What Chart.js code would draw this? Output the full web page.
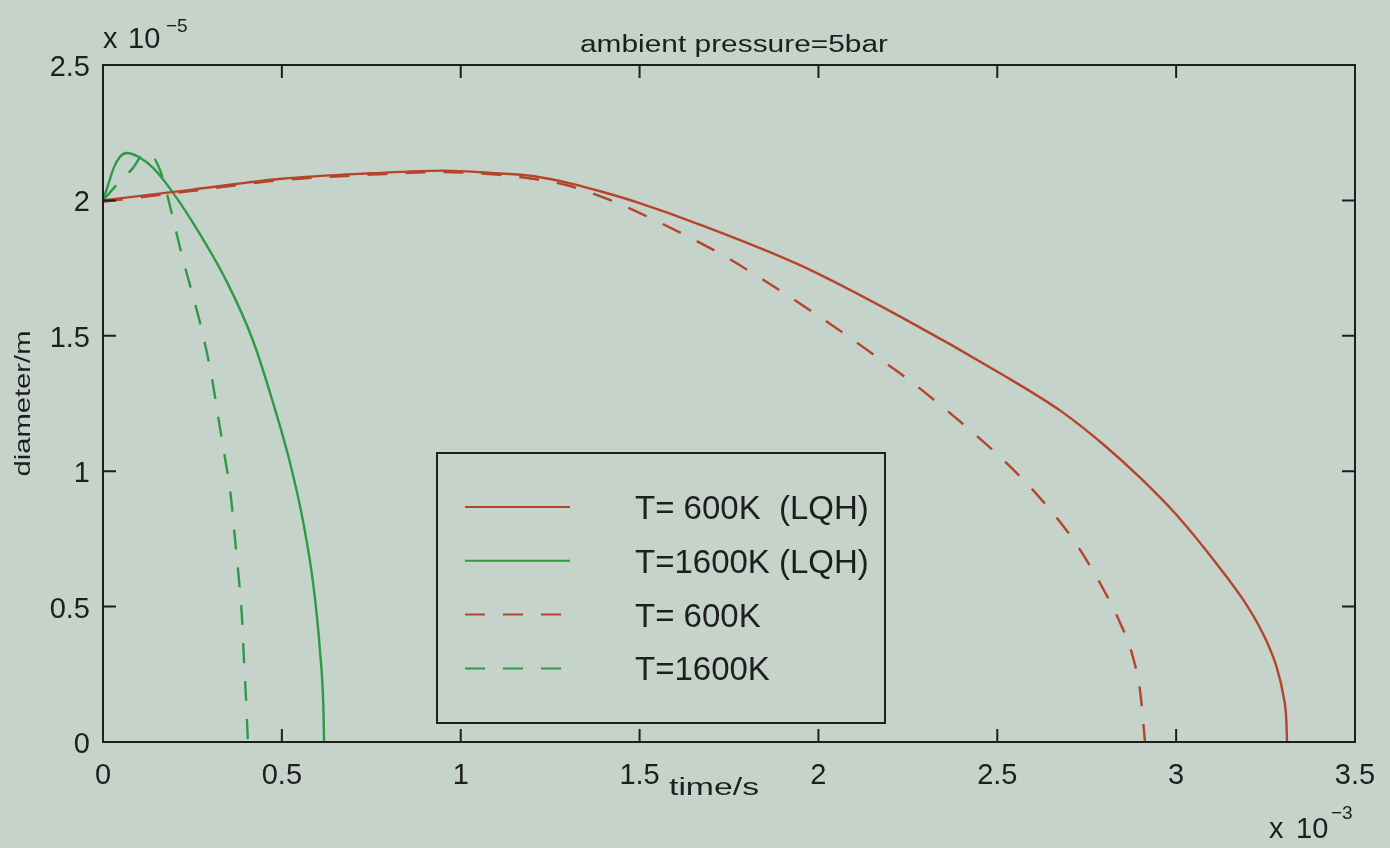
<!DOCTYPE html>
<html>
<head>
<meta charset="utf-8">
<script src="https://cdn.jsdelivr.net/npm/chart.js@4/dist/chart.umd.min.js"></script>
<style>
  body { margin: 0; background: #c6d3cb; }
  canvas { display: block; }
</style>
</head>
<body>
<canvas id="chart" width="1390" height="848"></canvas>
<script>
// time in 1e-3 s, diameter in 1e-5 m
const t600lqh = [0, 0.25, 0.5, 0.75, 0.95, 1.1, 1.2, 1.3, 1.4, 1.5, 1.67, 1.95, 2.23, 2.51, 2.68, 2.8, 2.9, 3.0, 3.1, 3.2, 3.25, 3.28, 3.3, 3.308, 3.31];
const d600lqh = [2.0, 2.04, 2.08, 2.10, 2.11, 2.10, 2.09, 2.065, 2.03, 1.99, 1.91, 1.76, 1.57, 1.36, 1.22, 1.095, 0.975, 0.84, 0.68, 0.50, 0.38, 0.28, 0.17, 0.08, 0];

const t1600lqh = [0, 0.015, 0.03, 0.047, 0.067, 0.1, 0.14, 0.178, 0.252, 0.346, 0.42, 0.476, 0.523, 0.56, 0.588, 0.607, 0.616, 0.618];
const d1600lqh = [2.0, 2.06, 2.12, 2.16, 2.175, 2.16, 2.12, 2.06, 1.916, 1.70, 1.48, 1.25, 1.03, 0.81, 0.58, 0.33, 0.13, 0];

const t600 = [0, 0.25, 0.5, 0.75, 0.95, 1.1, 1.2, 1.3, 1.42, 1.53, 1.63, 1.73, 1.83, 1.97, 2.07, 2.16, 2.25, 2.34, 2.43, 2.51, 2.6, 2.7, 2.755, 2.79, 2.84, 2.88, 2.9, 2.913];
const d600 = [1.995, 2.035, 2.075, 2.095, 2.105, 2.095, 2.08, 2.055, 2.0, 1.935, 1.87, 1.80, 1.72, 1.60, 1.51, 1.425, 1.34, 1.245, 1.145, 1.05, 0.93, 0.77, 0.66, 0.58, 0.45, 0.31, 0.18, 0];

const t1600 = [0, 0.04, 0.084, 0.117, 0.135, 0.15, 0.168, 0.187, 0.224, 0.252, 0.28, 0.305, 0.322, 0.341, 0.358, 0.369, 0.38, 0.389, 0.394, 0.40, 0.405];
const d1600 = [2.0, 2.06, 2.12, 2.175, 2.17, 2.14, 2.08, 1.98, 1.78, 1.645, 1.50, 1.34, 1.20, 1.05, 0.90, 0.75, 0.60, 0.45, 0.305, 0.156, 0];

const seriesLabels = ["T= 600K  (LQH)", "T=1600K (LQH)", "T= 600K", "T=1600K"];
const xTickLabels = ["0", "0.5", "1", "1.5", "2", "2.5", "3", "3.5"];
const yTickLabels = ["0", "0.5", "1", "1.5", "2", "2.5"];

const RED = "#b4452c";
const GREEN = "#2e9a44";
const INK = "#1e1e1e";
const BG = "#c6d3cb";
const FONT = "'Liberation Sans', Arial, sans-serif";

const pts = (xs, ys) => xs.map((x, i) => ({ x: x, y: ys[i] }));

// the small labels in the photo are wider than a plain font, so stretch them to a width
function wideText(ctx, txt, x, y, size, width) {
  ctx.font = size + "px " + FONT;
  const sx = width / ctx.measureText(txt).width;
  ctx.save();
  ctx.translate(x, y);
  ctx.scale(sx, 1);
  ctx.textAlign = "center";
  ctx.fillText(txt, 0, 0);
  ctx.restore();
}

// box around the axes with inward ticks on all four sides, plus tick labels
const frame = {
  id: "frame",
  afterDatasetsDraw(chart) {
    const { ctx, chartArea: a, scales } = chart;
    ctx.save();
    ctx.strokeStyle = INK;
    ctx.lineWidth = 2;
    ctx.strokeRect(a.left, a.top, a.right - a.left, a.bottom - a.top);
    const len = 13;
    ctx.fillStyle = INK;
    ctx.font = "29px " + FONT;
    scales.x.ticks.forEach((t, i) => {
      const px = scales.x.getPixelForValue(t.value);
      ctx.beginPath();
      ctx.moveTo(px, a.bottom); ctx.lineTo(px, a.bottom - len);
      ctx.moveTo(px, a.top); ctx.lineTo(px, a.top + len);
      ctx.stroke();
      ctx.textAlign = "center";
      ctx.fillText(xTickLabels[i], px, a.bottom + 42);
    });
    scales.y.ticks.forEach((t, i) => {
      const py = scales.y.getPixelForValue(t.value);
      ctx.beginPath();
      ctx.moveTo(a.left, py); ctx.lineTo(a.left + len, py);
      ctx.moveTo(a.right, py); ctx.lineTo(a.right - len, py);
      ctx.stroke();
      ctx.textAlign = "right";
      ctx.fillText(yTickLabels[i], a.left - 13, py + 11);
    });
    ctx.restore();
  },
};

// title, axis labels and the exponent notes
const texts = {
  id: "texts",
  afterDraw(chart) {
    const { ctx, chartArea: a } = chart;
    ctx.save();
    ctx.fillStyle = INK;
    ctx.textBaseline = "alphabetic";
    wideText(ctx, "ambient pressure=5bar", 734, 52, 23, 308);
    wideText(ctx, "time/s", 714, 795, 23, 90);

    ctx.save();
    ctx.translate(30, (a.top + a.bottom) / 2);
    ctx.rotate(-Math.PI / 2);
    wideText(ctx, "diameter/m", 0, 0, 22, 146);
    ctx.restore();

    ctx.textAlign = "left";
    ctx.font = "29px " + FONT;
    ctx.fillText("x", 103, 48);
    ctx.fillText("10", 128, 48);
    ctx.font = "19px " + FONT;
    ctx.fillText("\u22125", 166, 32);

    ctx.font = "29px " + FONT;
    ctx.fillText("x", 1269, 838);
    ctx.fillText("10", 1296, 838);
    ctx.font = "19px " + FONT;
    ctx.fillText("\u22123", 1331, 819);
    ctx.restore();
  },
};

// boxed legend inside the plot
const boxLegend = {
  id: "boxLegend",
  afterDraw(chart) {
    const { ctx } = chart;
    const x0 = 437, y0 = 453, w = 448, h = 270;
    ctx.save();
    ctx.fillStyle = BG;
    ctx.fillRect(x0, y0, w, h);
    ctx.strokeStyle = INK;
    ctx.lineWidth = 2;
    ctx.strokeRect(x0, y0, w, h);
    ctx.font = "33px " + FONT;
    ctx.textBaseline = "alphabetic";
    ctx.textAlign = "left";
    chart.data.datasets.forEach((ds, i) => {
      const y = 507 + i * 53.8;
      ctx.strokeStyle = ds.borderColor;
      ctx.lineWidth = 2;
      ctx.setLineDash(ds.borderDash || []);
      ctx.beginPath();
      ctx.moveTo(465, y); ctx.lineTo(570, y);
      ctx.stroke();
      ctx.setLineDash([]);
      ctx.fillStyle = INK;
      ctx.fillText(ds.label, 635, y + 12);
    });
    ctx.restore();
  },
};

const mkSet = (label, data, color, dash) => ({
  label: label,
  data: data,
  borderColor: color,
  borderWidth: 2.4,
  borderDash: dash,
  pointRadius: 0,
  cubicInterpolationMode: "monotone",
  fill: false,
});

new Chart(document.getElementById("chart").getContext("2d"), {
  type: "line",
  data: {
    datasets: [
      mkSet(seriesLabels[0], pts(t600lqh, d600lqh), RED, []),
      mkSet(seriesLabels[1], pts(t1600lqh, d1600lqh), GREEN, []),
      mkSet(seriesLabels[2], pts(t600, d600), RED, [20, 18]),
      mkSet(seriesLabels[3], pts(t1600, d1600), GREEN, [20, 18]),
    ],
  },
  options: {
    responsive: false,
    animation: false,
    layout: { padding: { left: 0, top: 65, right: 35, bottom: 0 } },
    plugins: { legend: { display: false }, tooltip: { enabled: false } },
    scales: {
      x: {
        type: "linear",
        min: 0,
        max: 3.5,
        grid: { display: false },
        border: { display: false },
        afterFit: (s) => { s.height = 106; },
        ticks: { stepSize: 0.5, display: false },
      },
      y: {
        min: 0,
        max: 2.5,
        grid: { display: false },
        border: { display: false },
        afterFit: (s) => { s.width = 103; },
        ticks: { stepSize: 0.5, display: false },
      },
    },
  },
  plugins: [frame, texts, boxLegend],
});
</script>
</body>
</html>
